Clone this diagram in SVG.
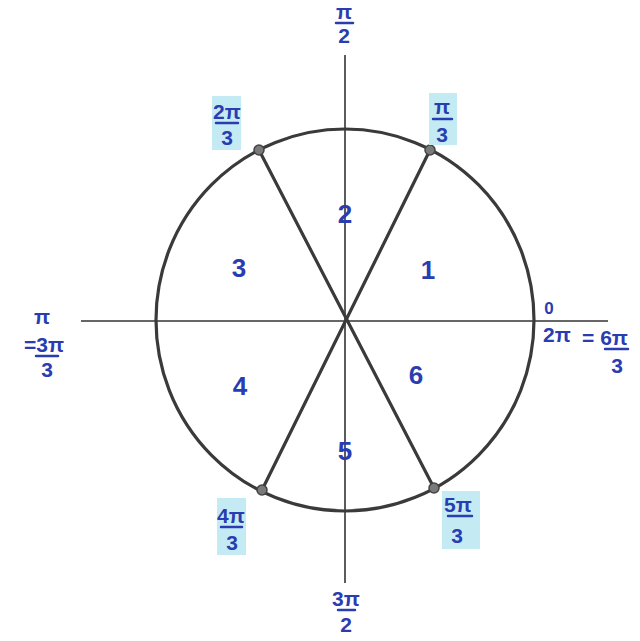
<svg xmlns="http://www.w3.org/2000/svg" width="640" height="641" viewBox="0 0 640 641">
<style>
.lbl{font-family:"Liberation Sans","DejaVu Sans",sans-serif;font-weight:bold;fill:#2a3db0;text-anchor:middle}
.num{font-size:26px}
.fr{font-size:21px}
.bar{stroke:#2a3db0;stroke-width:2.5;stroke-linecap:round}
.hl{fill:#c4ebf4}
.axis{stroke:#333;stroke-width:1.6}
.thick{stroke:#3a3a3a;stroke-width:3.2;fill:none;stroke-linecap:round}
.dot{fill:#7a7a7a;stroke:#444;stroke-width:1.5}
</style>
<rect width="640" height="641" fill="#ffffff"/>
<g id="connectors">
<line class="axis" x1="81" y1="321" x2="608" y2="321"/>
<line class="axis" x1="345" y1="55" x2="345" y2="583"/>
<ellipse id="circle" class="thick" cx="345" cy="320" rx="189" ry="191"/>
<line class="thick" x1="259" y1="150" x2="434" y2="488"/>
<line class="thick" x1="430" y1="150" x2="262" y2="490"/>
</g>
<g id="points">
<circle class="dot" cx="259" cy="150" r="5"/>
<circle class="dot" cx="430" cy="150" r="5"/>
<circle class="dot" cx="262" cy="490" r="5"/>
<circle class="dot" cx="434" cy="488" r="5"/>
</g>
<g id="regions">
<text class="lbl num" x="345" y="223">2</text>
<text class="lbl num" x="239" y="277">3</text>
<text class="lbl num" x="428" y="279">1</text>
<text class="lbl num" x="240" y="395">4</text>
<text class="lbl num" x="416" y="384">6</text>
<text class="lbl num" x="345" y="460">5</text>
</g>
<g id="label-pi2">
<text class="lbl fr" x="344" y="19">π</text>
<line class="bar" x1="336" y1="23" x2="353" y2="23"/>
<text class="lbl fr" x="344" y="43">2</text>
</g>
<g id="label-2pi3">
<rect class="hl" x="212" y="96" width="29" height="54"/>
<text class="lbl fr" x="227" y="119">2π</text>
<line class="bar" x1="216" y1="123" x2="238" y2="123"/>
<text class="lbl fr" x="227" y="145">3</text>
</g>
<g id="label-pi3">
<rect class="hl" x="429" y="93" width="28" height="52"/>
<text class="lbl fr" x="442" y="114">π</text>
<line class="bar" x1="433" y1="119" x2="452" y2="119"/>
<text class="lbl fr" x="442" y="142">3</text>
</g>
<g id="label-pi">
<text class="lbl fr" x="42" y="324">π</text>
<text class="lbl fr" x="44" y="352">=3π</text>
<line class="bar" x1="36" y1="356" x2="58" y2="356"/>
<text class="lbl fr" x="47" y="377">3</text>
</g>
<g id="label-0">
<text class="lbl" style="font-size:17px" x="549" y="314">0</text>
<text class="lbl fr" x="557" y="342">2π</text>
<text class="lbl fr" x="605" y="345">= 6π</text>
<line class="bar" x1="605" y1="349" x2="628" y2="349"/>
<text class="lbl fr" x="617" y="373">3</text>
</g>
<g id="label-4pi3">
<rect class="hl" x="217" y="498" width="29" height="57"/>
<text class="lbl fr" x="231" y="523">4π</text>
<line class="bar" x1="221" y1="527" x2="242" y2="527"/>
<text class="lbl fr" x="232" y="550">3</text>
</g>
<g id="label-5pi3">
<rect class="hl" x="442" y="491" width="38" height="58"/>
<text class="lbl fr" x="458" y="512">5π</text>
<line class="bar" x1="448" y1="516" x2="472" y2="516"/>
<text class="lbl fr" x="457" y="543">3</text>
</g>
<g id="label-3pi2">
<text class="lbl fr" x="346" y="606">3π</text>
<line class="bar" x1="338" y1="610" x2="355" y2="610"/>
<text class="lbl fr" x="346" y="632">2</text>
</g>
</svg>
